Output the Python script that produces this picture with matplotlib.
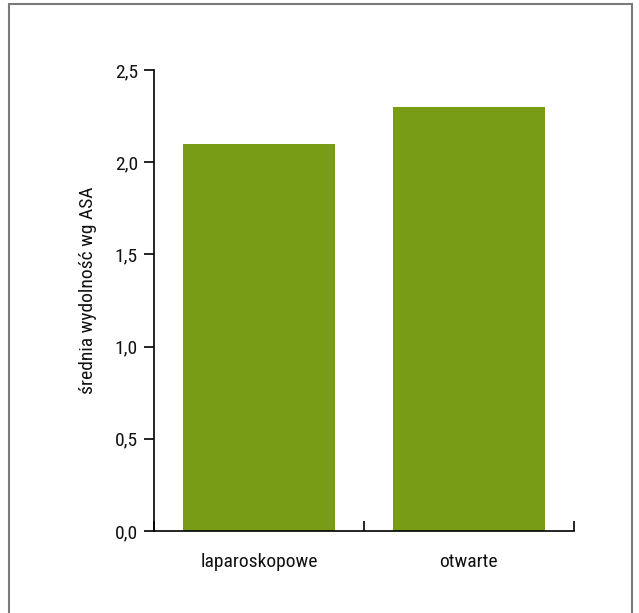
import numpy as np
import matplotlib.pyplot as plt
from matplotlib.patches import Rectangle

plt.rcParams['font.family'] = ['Roboto Condensed', 'Liberation Sans Narrow', 'DejaVu Sans']

# dane
grupy = ['laparoskopowe', 'otwarte']
srednie = [2.1, 2.3]
y_ticki = [0.0, 0.5, 1.0, 1.5, 2.0, 2.5]

fig = plt.figure(figsize=(6.39, 6.13), dpi=100)
ax = fig.add_axes([0.241, 0.1338, 0.657, 0.752])

# ramka wokół całego rysunku
fig.patches.append(Rectangle((9 / 639, -0.01), 623 / 639, 1 - 4 / 613 + 0.01,
                             transform=fig.transFigure, fill=False,
                             edgecolor='#7a7a7a', linewidth=1.5))

x = np.arange(len(grupy))
ax.bar(x, srednie, width=0.724, color='#789c16')

ax.set_xlim(-0.5, 1.5)
ax.set_ylim(0, 2.5)
ax.set_yticks(y_ticki)
ax.set_yticklabels([f'{v:.1f}'.replace('.', ',') for v in y_ticki], fontsize=14, color='#111111')
ax.set_xticks(x)
ax.set_xticklabels(grupy, fontsize=14, color='#111111')
ax.set_xticks([-0.5, 0.5, 1.5], minor=True)

ax.tick_params(axis='x', which='major', length=0, pad=16)
ax.tick_params(axis='x', which='minor', direction='in', length=7.5, width=1.2)
ax.tick_params(axis='y', direction='out', length=7.5, width=1.2, pad=4)

for s in ['top', 'right']:
    ax.spines[s].set_visible(False)
for s in ['left', 'bottom']:
    ax.spines[s].set_linewidth(1.2)

ax.set_ylabel('średnia wydolność wg ASA', fontsize=14, color='#111111')
ax.yaxis.set_label_coords(-0.136, 0.522)

fig.savefig('out.png', dpi=100)
